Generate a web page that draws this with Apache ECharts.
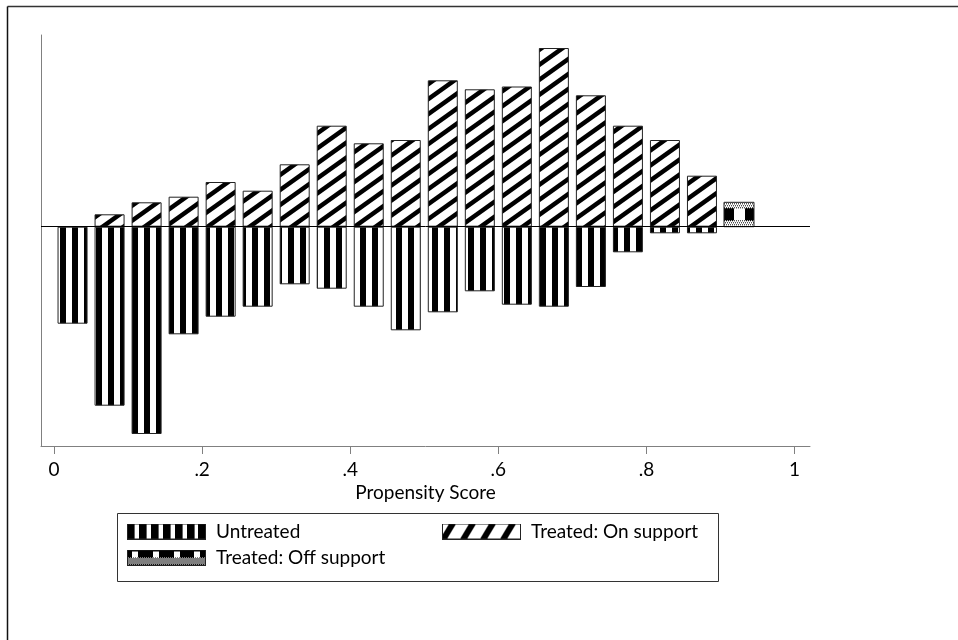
<!DOCTYPE html>
<html>
<head>
<meta charset="utf-8">
<script src="https://cdn.jsdelivr.net/npm/echarts@6/dist/echarts.min.js"></script>
<style>
  html, body { margin: 0; padding: 0; background: #fff; }
  #chart { width: 958px; height: 640px; }
</style>
</head>
<body>
<div id="chart"></div>
<script>
// bin midpoints (propensity score, bin width .05)
var binMid = [0.025, 0.075, 0.125, 0.175, 0.225, 0.275, 0.325, 0.375, 0.425, 0.475,
              0.525, 0.575, 0.625, 0.675, 0.725, 0.775, 0.825, 0.875, 0.925];
// density per bin
var untreated  = [0.970, 1.790, 2.073, 1.076, 0.900, 0.800, 0.576, 0.620, 0.800, 1.036,
                  0.856, 0.646, 0.780, 0.800, 0.603, 0.256, 0.066, 0.066, 0];
var treatedOn  = [0, 0.124, 0.244, 0.300, 0.447, 0.360, 0.624, 1.010, 0.834, 0.867,
                  1.464, 1.374, 1.402, 1.787, 1.314, 1.010, 0.867, 0.510, 0];
var treatedOff = [0, 0, 0, 0, 0, 0, 0, 0, 0, 0,
                  0, 0, 0, 0, 0, 0, 0, 0, 0.244];
var xTicks = [0, 0.2, 0.4, 0.6, 0.8, 1];
var xTickLabels = ['0', '.2', '.4', '.6', '.8', '1'];

var FONT = 'Lato';
var BAR_W = 30;
var ICON_W = 79, ICON_H = 16;

// kleine Kacheln fuer die Stata-Schraffuren
function tile(w, h, draw) {
    var c = document.createElement('canvas');
    c.width = w; c.height = h;
    var ctx = c.getContext('2d');
    ctx.fillStyle = '#fff';
    ctx.fillRect(0, 0, w, h);
    draw(ctx, w, h);
    return c;
}
function vStripes(period, black) {
    return tile(period, period, function (ctx, w, h) {
        ctx.fillStyle = '#000';
        ctx.fillRect(0, 0, black, h);
    });
}
// "/" Linien, nahtlos kachelbar
function dStripes(w, h, lw) {
    return tile(w, h, function (ctx) {
        ctx.strokeStyle = '#000';
        ctx.lineWidth = lw;
        for (var k = -1; k <= 1; k++) {
            ctx.beginPath();
            ctx.moveTo(-w, 2 * h + k * h);
            ctx.lineTo(2 * w, -h + k * h);
            ctx.stroke();
        }
    });
}
function checker(ctx, y0, y1, w) {
    ctx.fillStyle = '#000';
    for (var y = y0; y < y1; y++) {
        for (var x = y % 2; x < w; x += 2) ctx.fillRect(x, y, 1, 1);
    }
}
function dots(ctx, y0, y1, w) {
    ctx.fillStyle = '#000';
    for (var y = y0; y < y1; y += 2) {
        for (var x = ((y - y0) / 2) % 2; x < w; x += 2) ctx.fillRect(x, y, 1, 1);
    }
}
function border(ctx, w, h) {
    ctx.strokeStyle = '#222';
    ctx.lineWidth = 1;
    ctx.strokeRect(0.5, 0.5, w - 1, h - 1);
}
var offBarTile = tile(BAR_W, 25, function (ctx, w) {
    dots(ctx, 1, 6, w);
    ctx.fillStyle = '#000';
    ctx.fillRect(0, 6, w, 12);
    ctx.fillStyle = '#fff';
    ctx.fillRect(10, 6, 11, 12);
    dots(ctx, 18, 25, w);
});

// Legendensymbole
var iconUntreated = tile(ICON_W, ICON_H, function (ctx, w, h) {
    ctx.fillStyle = '#000';
    for (var i = 0; i < 7; i++) ctx.fillRect(Math.round(i * 11.9), 0, 7.6, h);
    border(ctx, w, h);
});
var iconTreated = tile(ICON_W, ICON_H, function (ctx, w, h) {
    ctx.strokeStyle = '#000';
    ctx.lineWidth = 6;
    for (var x0 = -20; x0 < w + 20; x0 += 20) {
        ctx.beginPath();
        ctx.moveTo(x0, h + 2);
        ctx.lineTo(x0 + 12, -2);
        ctx.stroke();
    }
    border(ctx, w, h);
});
var iconOff = tile(ICON_W, ICON_H, function (ctx, w, h) {
    ctx.fillStyle = '#000';
    ctx.fillRect(0, 0, w, 8);
    ctx.fillStyle = '#fff';
    [5, 26, 47, 67].forEach(function (x) { ctx.fillRect(x, 2, 6, 6); });
    checker(ctx, 8, h, w);
    border(ctx, w, h);
});

var untreatedFill = { image: vStripes(12, 6), repeat: 'repeat' };
var treatedFill = { image: dStripes(21, 15, 4.5), repeat: 'repeat' };
var offBarFill = { image: offBarTile, repeat: 'repeat' };

function pairs(vals, sign) {
    var out = [];
    for (var i = 0; i < binMid.length; i++) {
        if (vals[i] !== 0) out.push([binMid[i], sign * vals[i]]);
    }
    return out;
}

var legendText = { fontFamily: FONT, fontSize: 19, color: '#000', padding: [0, 0, 0, 5] };
function legendAt(left, top, name, icon) {
    return {
        left: left, top: top, padding: 0, orient: 'horizontal',
        itemWidth: ICON_W, itemHeight: ICON_H,
        selectedMode: false, textStyle: legendText,
        data: [{ name: name, icon: 'image://' + icon.toDataURL() }]
    };
}

var chart = echarts.init(document.getElementById('chart'));
chart.setOption({
    animation: false,
    backgroundColor: '#fff',
    grid: { left: 41, right: 148, top: 35, bottom: 194, outerBoundsMode: 'none' },
    xAxis: {
        type: 'value',
        min: -0.0176,
        max: 1.0209,
        name: 'Propensity Score',
        nameLocation: 'middle',
        nameGap: 37,
        nameMoveOverlap: false,
        nameTextStyle: { fontFamily: FONT, fontSize: 19, color: '#000' },
        axisLine: { onZero: false, lineStyle: { color: '#808080', width: 1 } },
        axisTick: { show: true, length: 8, customValues: xTicks, lineStyle: { color: '#808080' } },
        axisLabel: {
            customValues: xTicks, margin: 14,
            fontFamily: FONT, fontSize: 19, color: '#000',
            formatter: function (v) {
                for (var i = 0; i < xTicks.length; i++) {
                    if (Math.abs(xTicks[i] - v) < 1e-9) return xTickLabels[i];
                }
                return '';
            }
        },
        splitLine: { show: false }
    },
    yAxis: {
        type: 'value',
        min: -2.193,
        max: 1.917,
        axisLine: { show: true, onZero: false, lineStyle: { color: '#808080', width: 1 } },
        axisTick: { show: false },
        axisLabel: { show: false },
        splitLine: { show: false }
    },
    legend: [
        legendAt(127, 522, 'Untreated', iconUntreated),
        legendAt(442, 522, 'Treated: On support', iconTreated),
        legendAt(127, 548, 'Treated: Off support', iconOff)
    ],
    graphic: [
        { type: 'line', shape: { x1: 7.5, y1: 6.5, x2: 958, y2: 6.5 }, style: { stroke: '#333', lineWidth: 1.5 } },
        { type: 'line', shape: { x1: 7.5, y1: 6.5, x2: 7.5, y2: 640 }, style: { stroke: '#111', lineWidth: 1.5 } },
        { type: 'rect', shape: { x: 117.5, y: 513.5, width: 601, height: 68 }, style: { fill: 'none', stroke: '#333', lineWidth: 1 } }
    ],
    series: [
        {
            name: 'Untreated',
            type: 'bar',
            stack: 'ps',
            barWidth: BAR_W,
            data: pairs(untreated, -1),
            itemStyle: { color: untreatedFill, borderColor: '#222', borderWidth: 1 }
        },
        {
            name: 'Treated: On support',
            type: 'bar',
            stack: 'ps',
            barWidth: BAR_W,
            data: pairs(treatedOn, 1),
            itemStyle: { color: treatedFill, borderColor: '#222', borderWidth: 1 },
            markLine: {
                silent: true,
                symbol: ['none', 'none'],
                label: { show: false },
                lineStyle: { color: '#000', width: 1, type: 'solid' },
                data: [{ yAxis: 0 }]
            }
        },
        {
            name: 'Treated: Off support',
            type: 'custom',
            data: pairs(treatedOff, 1),
            itemStyle: { color: '#000' },
            renderItem: function (params, api) {
                var top = api.coord([api.value(0), api.value(1)]);
                var base = api.coord([api.value(0), 0]);
                return {
                    type: 'group',
                    x: top[0] - BAR_W / 2,
                    y: top[1],
                    children: [{
                        type: 'rect',
                        shape: { x: 0, y: 0, width: BAR_W, height: base[1] - top[1] },
                        style: { fill: offBarFill, stroke: '#222', lineWidth: 1 }
                    }]
                };
            }
        }
    ]
});
</script>
</body>
</html>
